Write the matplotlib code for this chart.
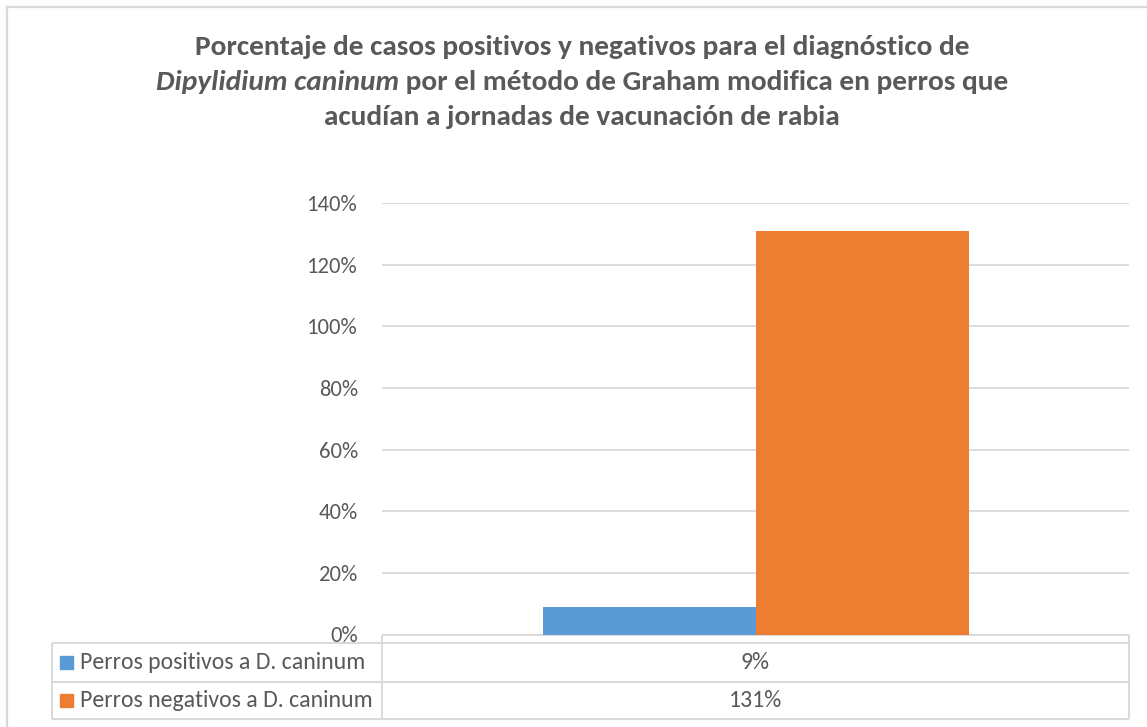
import matplotlib
matplotlib.use("Agg")
import matplotlib.pyplot as plt
from matplotlib import font_manager
from matplotlib.patches import Rectangle
from matplotlib.ticker import FixedLocator, FuncFormatter

# ---------------- data ----------------
series_names = ["Perros positivos a D. caninum", "Perros negativos a D. caninum"]
series_values = [0.09, 1.31]
value_labels = ["9%", "131%"]
series_colors = ["#5B9BD5", "#ED7D31"]
y_ticks = [0.0, 0.2, 0.4, 0.6, 0.8, 1.0, 1.2, 1.4]
y_tick_labels = ["0%", "20%", "40%", "60%", "80%", "100%", "120%", "140%"]
title_line1 = "Porcentaje de casos positivos y negativos para el diagnóstico de"
title_line2_italic = "Dipylidium caninum"
title_line2_rest = " por el método de Graham modifica en perros que"
title_line3 = "acudían a jornadas de vacunación de rabia"

# ---------------- style ----------------
available = {f.name for f in font_manager.fontManager.ttflist}
FONT = "Carlito" if "Carlito" in available else ("Lato" if "Lato" in available else "DejaVu Sans")
TXT = "#595959"
LINE = "#D9D9D9"

W, H = 1147, 727
fig = plt.figure(figsize=(W / 100, H / 100), dpi=100)
renderer = fig.canvas.get_renderer()


def rect(x0, y0, x1, y1):
    return [x0 / W, 1 - y1 / H, (x1 - x0) / W, (y1 - y0) / H]


# overlay axes in pixel coordinates (origin top-left)
ov = fig.add_axes([0, 0, 1, 1])
ov.set_xlim(0, W)
ov.set_ylim(H, 0)
ov.axis("off")
ov.patch.set_visible(False)


def width_of(t):
    return t.get_window_extent(renderer).width


def fit_size(text, target, **kw):
    t = ov.text(0, 0, text, fontsize=10, family=FONT, **kw)
    w = width_of(t)
    t.remove()
    return 10 * target / w


# ---------------- plot area ----------------
PX0, PX1, PY0, PY1 = 382, 1129, 203, 634.5
ax = fig.add_axes(rect(PX0, PY0, PX1, PY1))
ax.set_xlim(0, 1)
ax.set_ylim(0, 1.4)
bw = 213 / (PX1 - PX0)
n = len(series_values)
for i, (v, c) in enumerate(zip(series_values, series_colors)):
    ax.bar(0.5 + (i - (n - 1) / 2) * bw, v, width=bw, color=c, zorder=3)

ax.yaxis.set_major_locator(FixedLocator(y_ticks))
ax.yaxis.set_major_formatter(FuncFormatter(lambda v, p: y_tick_labels[int(round(v / 0.2))]))
ax.set_xticks([])
ax.grid(axis="y", color=LINE, linewidth=1.3, zorder=0)
ax.set_axisbelow(True)
for s in ax.spines.values():
    s.set_visible(False)
tick_fs = fit_size("140%", 51)
ax.tick_params(axis="y", length=0, pad=24 * 0.72, labelsize=tick_fs, labelcolor=TXT)
for lab in ax.get_yticklabels():
    lab.set_family(FONT)
ax.patch.set_visible(False)

# ---------------- title ----------------
CX = 582
fs2 = fit_size(title_line2_italic + title_line2_rest, 856, fontweight="bold")
tkw = dict(fontsize=fs2, family=FONT, fontweight="bold", color=TXT, va="baseline")
ov.text(CX, 55, title_line1, ha="center", **tkw)
ti = ov.text(0, 90, title_line2_italic, ha="left", style="italic", **tkw)
tr = ov.text(0, 90, title_line2_rest, ha="left", **tkw)
wi, wr = width_of(ti), width_of(tr)
x0 = CX - (wi + wr) / 2
ti.set_x(x0)
tr.set_x(x0 + wi)
ov.text(CX, 125, title_line3, ha="center", **tkw)

# ---------------- data table ----------------
lkw = dict(color=LINE, linewidth=1.4, solid_capstyle="butt")
TL, TR = 52, PX1
rows_y = [643, 681.5, 719]
ov.plot([PX0, TR], [635, 635], **lkw)
for y in rows_y:
    ov.plot([TL, TR], [y, y], **lkw)
ov.plot([TL, TL], [643, 719], **lkw)
ov.plot([PX0, PX0], [635, 719], **lkw)
ov.plot([TR, TR], [635, 719], **lkw)

lab_fs = fit_size(series_names[0], 286)
for i, (name, lab, c) in enumerate(zip(series_names, value_labels, series_colors)):
    yc = (rows_y[i] + rows_y[i + 1]) / 2
    ov.add_patch(Rectangle((60, yc - 6.5), 13, 13, color=c))
    ov.text(80, yc, name, ha="left", va="center", fontsize=lab_fs, family=FONT, color=TXT)
    ov.text((PX0 + PX1) / 2, yc, lab, ha="center", va="center", fontsize=lab_fs, family=FONT, color=TXT)

# chart outer border
ov.plot([7, 7], [7, H + 5], color=LINE, linewidth=1.6)
ov.plot([7, W + 5], [7, 7], color=LINE, linewidth=1.6)

fig.savefig("out.png", dpi=100, facecolor="white")
